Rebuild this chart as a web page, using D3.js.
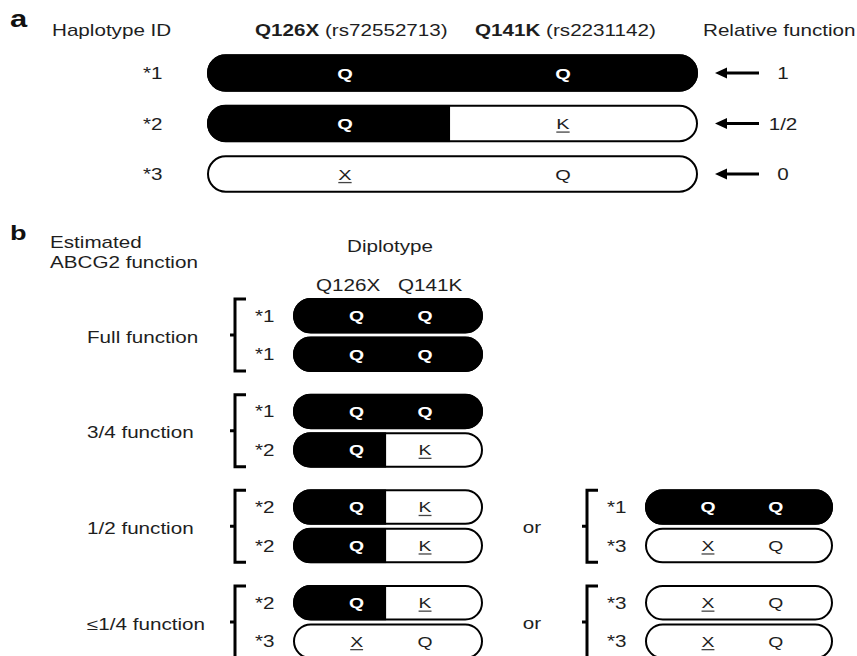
<!DOCTYPE html>
<html>
<head>
<meta charset="utf-8">
<script src="https://cdn.jsdelivr.net/npm/d3@7"></script>
<style>
  html, body { margin: 0; padding: 0; background: #fff; overflow: hidden; }
  svg { display: block; }
</style>
</head>
<body>
<script>
// ---------- data ----------
const haplotypeIds = ["*1", "*2", "*3"];
const allele126 = ["Q", "Q", "X"];        // Q126X (rs72552713)
const allele141 = ["Q", "K", "Q"];        // Q141K (rs2231142)
const functional126 = [1, 1, 0];          // filled (functional) segment
const functional141 = [1, 0, 0];
const relativeFunction = ["1", "1/2", "0"];
const snpNames = ["Q126X", "Q141K"];
const snpIds = ["rs72552713", "rs2231142"];
const functionGroups = ["Full function", "3/4 function", "1/2 function", "\u22641/4 function"];
const diplotypeMain = [["*1", "*1"], ["*1", "*2"], ["*2", "*2"], ["*2", "*3"]];
const diplotypeAlt = [null, null, ["*1", "*3"], ["*3", "*3"]];

// ---------- setup ----------
const W = 857, H = 656;
const SX = 1.29;
const FONT = "'Liberation Sans', Arial, Helvetica, sans-serif";
const TXT = "#1e1e1e";

const svg = d3.select("body").append("svg").attr("width", W).attr("height", H)
  .style("font-family", FONT);
svg.append("rect").attr("width", W).attr("height", H).attr("fill", "#fff");
const defs = svg.append("defs");

function text(g, x, y, s, o = {}) {
  return g.append("text")
    .attr("transform", `translate(${x},${y}) scale(${SX},1)`)
    .attr("text-anchor", o.anchor || "start")
    .attr("font-size", o.size || 16)
    .attr("font-weight", o.bold ? "bold" : "normal")
    .attr("fill", o.fill || TXT)
    .text(s);
}

let clipId = 0;
function drawBar(g, x0, x1, cy, h, hi, split, tpos, fs) {
  const y0 = cy - h / 2;
  const id = "clip" + (clipId++);
  defs.append("clipPath").attr("id", id).append("rect")
    .attr("x", x0).attr("y", y0).attr("width", x1 - x0).attr("height", h)
    .attr("rx", h / 2).attr("ry", h / 2);
  const xs = d3.scaleLinear().domain([0, 1]).range([x0, x1]);
  const cg = g.append("g").attr("clip-path", `url(#${id})`);
  const alleles = [allele126[hi], allele141[hi]];
  const filled = [functional126[hi], functional141[hi]];
  // contiguous filled extent (from left)
  let end = 0;
  if (filled[0]) end = filled[1] ? 1 : split;
  if (end > 0) {
    cg.append("rect").attr("x", xs(0)).attr("y", y0)
      .attr("width", xs(end) - xs(0)).attr("height", h).attr("fill", "#000");
  }
  g.append("rect").attr("x", x0 + 1).attr("y", y0 + 1)
    .attr("width", x1 - x0 - 2).attr("height", h - 2)
    .attr("rx", (h - 2) / 2).attr("ry", (h - 2) / 2)
    .attr("fill", "none").attr("stroke", "#000").attr("stroke-width", 2);
  alleles.forEach((a, k) => {
    const f = filled[k];
    const tx = xs(tpos[k]);
    const ty = cy + fs * 0.36;
    const t = text(g, tx, ty, a, { anchor: "middle", size: fs, bold: !!f, fill: f ? "#fff" : TXT });
    if (a !== "Q") {
      const len = t.node().getComputedTextLength() * SX;
      g.append("line").attr("x1", tx - len / 2).attr("x2", tx + len / 2)
        .attr("y1", ty + 3).attr("y2", ty + 3)
        .attr("stroke", "#444").attr("stroke-width", 1.3);
    }
  });
}

// ---------- panel a ----------
const pa = svg.append("g");
text(pa, 10, 27, "a", { size: 24, bold: true, fill: "#111" });
text(pa, 52, 36, "Haplotype ID");
const hdrX = [255, 475];
snpNames.forEach((n, i) => {
  const t = pa.append("text")
    .attr("transform", `translate(${hdrX[i]},36) scale(${SX},1)`)
    .attr("font-size", 16).attr("fill", TXT);
  t.append("tspan").attr("font-weight", "bold").text(n);
  t.append("tspan").text(` (${snpIds[i]})`);
});
text(pa, 703, 36, "Relative function");

const yA = d3.scaleLinear().domain([0, 2]).range([73, 174]);
haplotypeIds.forEach((id, i) => {
  const cy = yA(i);
  text(pa, 143, cy + 6, id);
  drawBar(pa, 207, 698, cy, 37.5, i, 0.495, [0.281, 0.725], 15.5);
  pa.append("line").attr("x1", 759).attr("x2", 724).attr("y1", cy).attr("y2", cy)
    .attr("stroke", "#000").attr("stroke-width", 3);
  pa.append("path").attr("d", `M715,${cy} L727,${cy - 5.5} L727,${cy + 5.5} Z`).attr("fill", "#000");
  text(pa, 783, cy + 6, relativeFunction[i], { anchor: "middle" });
});

// ---------- panel b ----------
const pb = svg.append("g");
text(pb, 10, 240, "b", { size: 21, bold: true, fill: "#111" });
text(pb, 50, 248, "Estimated");
text(pb, 50, 268, "ABCG2 function");
text(pb, 390, 252, "Diplotype", { anchor: "middle" });
text(pb, 316, 291, snpNames[0]);
text(pb, 398, 291, snpNames[1]);

const gY = d3.scaleLinear().domain([0, 3]).range([298, 585]);
const BH = 35.5, ROW = 38.5;
const colX = [[293, 483], [645, 833]];

function drawSet(g, pair, top, cx) {
  const [bx0, bx1] = cx;
  const vx = bx0 - 58;
  const bTop = top + 1, bBot = top + ROW + BH - 1, mid = (bTop + bBot) / 2;
  g.append("path")
    .attr("d", `M${vx + 11},${bTop} H${vx} V${bBot} H${vx + 11} M${vx},${mid} H${vx - 5}`)
    .attr("fill", "none").attr("stroke", "#000").attr("stroke-width", 3);
  pair.forEach((h, r) => {
    const cy = top + r * ROW + BH / 2;
    text(g, bx0 - 38, cy + 6, h);
    drawBar(g, bx0, bx1, cy, BH, haplotypeIds.indexOf(h), 0.49, [0.335, 0.695], 15);
  });
}

functionGroups.forEach((lab, gi) => {
  const top = gY(gi);
  text(pb, 87, top + ROW + 6, lab);
  drawSet(pb, diplotypeMain[gi], top, colX[0]);
  if (diplotypeAlt[gi]) {
    text(pb, 532, top + ROW + 5, "or", { anchor: "middle" });
    drawSet(pb, diplotypeAlt[gi], top, colX[1]);
  }
});
</script>
</body>
</html>
